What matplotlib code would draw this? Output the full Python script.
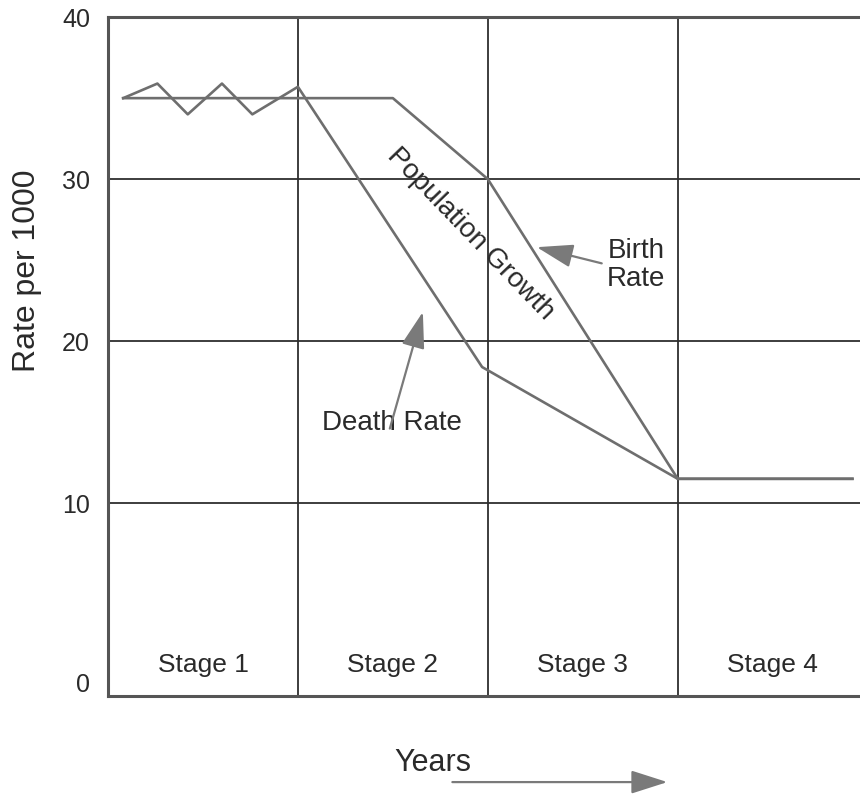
import matplotlib.pyplot as plt

plt.rcParams['font.family'] = ['Liberation Sans', 'DejaVu Sans']

# stages along the x axis
stage_x = [0.5, 1.5, 2.5, 3.5]
stage_labels = ['Stage 1', 'Stage 2', 'Stage 3', 'Stage 4']

# birth rate (per 1000)
birth_x = [0.08, 1.5, 2.0, 3.0, 3.92]
birth_y = [35.0, 35.0, 30.0, 11.5, 11.5]

# death rate (per 1000), fluctuating in stage 1
death_x = [0.08, 0.26, 0.42, 0.6, 0.76, 1.0, 1.97, 3.0, 3.92]
death_y = [35.0, 35.9, 34.0, 35.9, 34.0, 35.7, 18.4, 11.5, 11.5]

y_ticks = [10, 20, 30, 40]

text_col = '#2a2a2a'
line_col = '#6e6e6e'
grid_col = '#2e2e2e'


def main():
    fig = plt.figure(figsize=(8.6, 7.94), dpi=100)
    ax = fig.add_axes([0.1256, 0.1234, 0.8744, 0.855])

    ax.set_xlim(0, 3.96)
    ax.set_ylim(-1.91, 40)

    ax.set_xticks([1, 2, 3])
    ax.set_xticklabels([])
    ax.set_yticks(y_ticks)
    ax.set_yticks([-1.1], labels=['0'], minor=True)
    ax.tick_params(axis='both', which='both', length=0, pad=13,
                   labelsize=18, labelcolor=text_col)
    ax.grid(True, which='major', color=grid_col, lw=1.3)
    ax.set_axisbelow(True)

    for side in ['left', 'top', 'bottom']:
        ax.spines[side].set_color('#555555')
        ax.spines[side].set_linewidth(2.2)
    ax.spines['right'].set_visible(False)

    ax.plot(birth_x, birth_y, color=line_col, lw=1.9, zorder=3)
    ax.plot(death_x, death_y, color=line_col, lw=1.9, zorder=3)

    for x, lab in zip(stage_x, stage_labels):
        ax.text(x, 0.0, lab, ha='center', va='center', fontsize=19, color=text_col)

    ax.text(1.91, 26.6, 'Population Growth', rotation=-46, rotation_mode='anchor',
            ha='center', va='center', fontsize=20, color=text_col)

    head = dict(arrowstyle='-|>,head_length=0.75,head_width=0.24', mutation_scale=30,
                color='#7a7a7a', lw=1.6, shrinkA=0, shrinkB=0)

    ax.text(2.78, 24.7, 'Birth\nRate', ha='center', va='center', fontsize=20,
            color=text_col, linespacing=1.1)
    ax.annotate('', xy=(2.258, 25.8), xytext=(2.6, 24.8), arrowprops=head)

    ax.text(1.495, 14.94, 'Death Rate', ha='center', va='center', fontsize=20,
            color=text_col)
    ax.annotate('', xy=(1.658, 21.8), xytext=(1.484, 14.6), arrowprops=head)

    ax.set_ylabel('Rate per 1000', fontsize=23, color=text_col)
    ax.yaxis.set_label_coords(-0.088, 0.627)

    fig.text(0.5035, 0.039, 'Years', ha='center', va='center', fontsize=22,
             color=text_col)
    ax.annotate('', xy=(0.776, 0.015), xytext=(0.526, 0.015),
                xycoords='figure fraction', textcoords='figure fraction',
                arrowprops=head, annotation_clip=False)

    fig.savefig('out.png', dpi=100)


if __name__ == "__main__":
    main()
